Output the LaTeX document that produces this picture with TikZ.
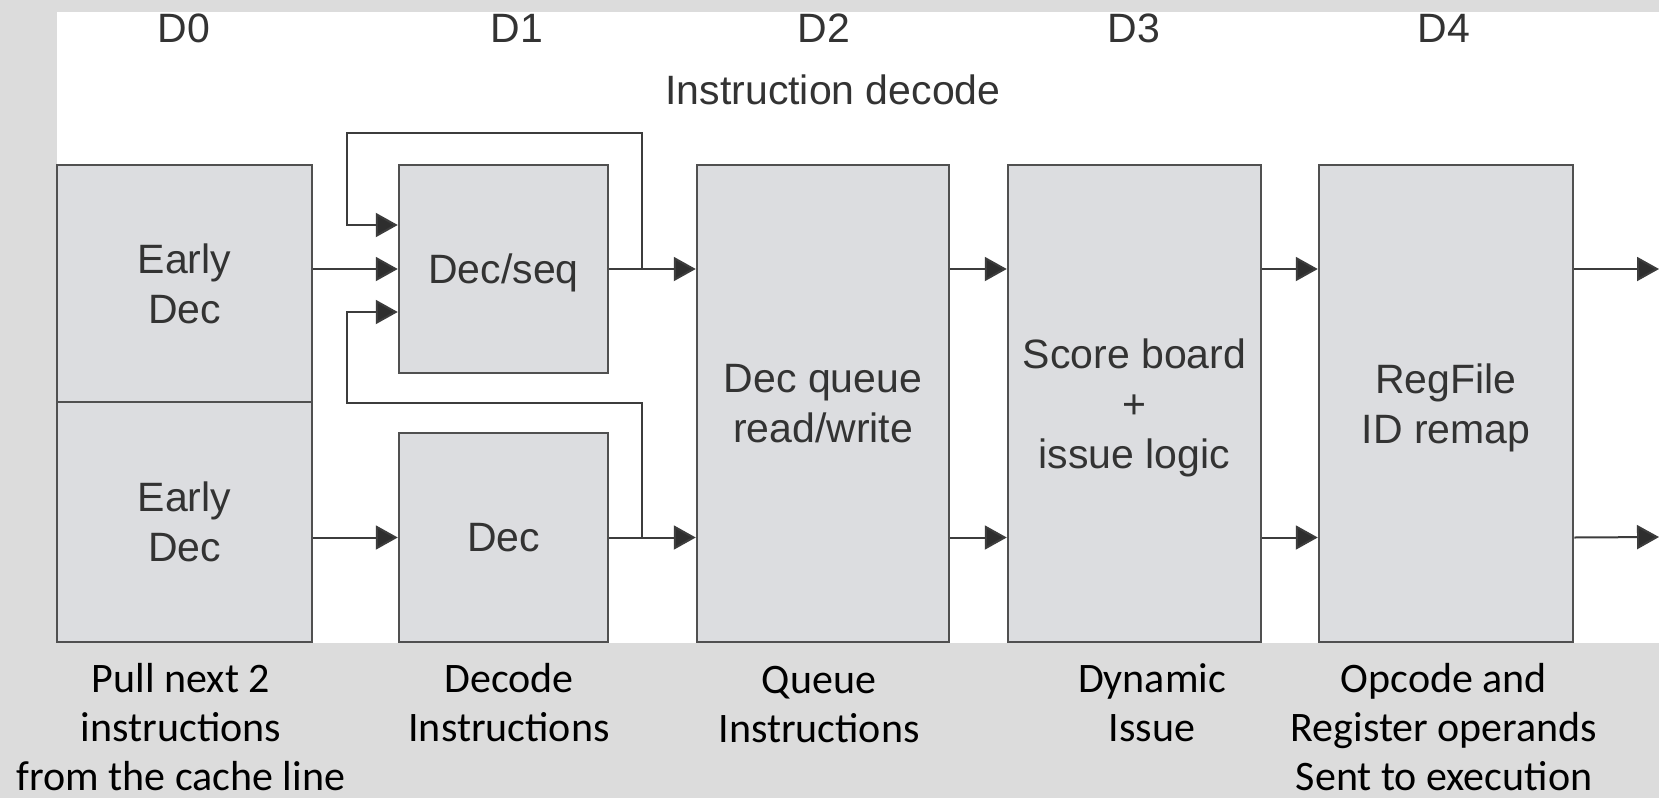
\documentclass[tikz,border=0pt]{standalone}
\usepackage{fontspec}
\usetikzlibrary{arrows.meta}
\newfontfamily\figfont{Liberation Sans}
\newfontfamily\notefont{Carlito}
\definecolor{bggray}{HTML}{DCDCDC}
\definecolor{boxfill}{HTML}{DCDDE0}
\definecolor{boxline}{HTML}{505050}
\definecolor{wire}{HTML}{3C3C3C}
\definecolor{tipcol}{HTML}{2E2E2E}
\definecolor{figtext}{HTML}{333333}
\begin{document}
\begin{tikzpicture}[x=1pt,y=-1pt,
  blk/.style={draw=boxline, line width=2.5pt, fill=boxfill, inner sep=0pt,
    font=\figfont\fontsize{41}{50}\selectfont, text=figtext, align=center, text depth=0pt},
  arr/.style={draw=wire, line width=2pt, -{Triangle[length=22pt,width=24pt,fill=tipcol]}},
  hdr/.style={font=\figfont\fontsize{41}{50}\selectfont, text=figtext, anchor=base, inner sep=0pt},
  note/.style={font=\notefont\fontsize{42}{49}\selectfont, text=black, align=center,
    anchor=north, inner sep=0pt, text depth=0pt}
]
\useasboundingbox (0,0) rectangle (1659,798);
\fill[bggray] (0,0) rectangle (1659,798);
\fill[white] (57,12) rectangle (1659,643);

% stage headers
\node[hdr] (h0) at (184,42) {D0};
\node[hdr] (h1) at (517,42) {D1};
\node[hdr] (h2) at (824,42) {D2};
\node[hdr] (h3) at (1134,42) {D3};
\node[hdr] (h4) at (1444,42) {D4};
\node[hdr] (title) at (833,104) {Instruction decode};

% blocks
\node[blk, minimum width=255pt, minimum height=237pt] (ed1) at (184.5,283.5) {Early\\Dec};
\node[blk, minimum width=255pt, minimum height=240pt] (ed2) at (184.5,522) {Early\\Dec};
\node[blk, minimum width=209pt, minimum height=208pt] (ds) at (503.5,269) {Dec/seq};
\node[blk, minimum width=209pt, minimum height=209pt] (dec) at (503.5,537.5) {Dec};
\node[blk, minimum width=252pt, minimum height=477pt] (dq) at (823,403.5) {Dec queue\\read/write};
\node[blk, minimum width=253pt, minimum height=477pt] (sb) at (1134.5,403.5) {Score board\\+\\issue logic};
\node[blk, minimum width=254pt, minimum height=477pt] (rf) at (1446,403.5) {RegFile\\ID remap};

% junctions and free ends
\coordinate (j1) at (642,269);
\coordinate (j2) at (642,537);
\coordinate (o1) at (1659,269);
\coordinate (o2) at (1659,537);

% connectors
\draw[arr] (ed1.east |- ds.west) -- (ds.west);
\draw[arr] (ed2.east |- dec.west) -- (dec.west);
\draw[arr] (ds.east) -- (dq.west |- ds.east);
\draw[arr] (dec.east) -- (dq.west |- dec.east);
\draw[arr] (dq.east |- ds.east) -- (sb.west |- ds.east);
\draw[arr] (dq.east |- dec.east) -- (sb.west |- dec.east);
\draw[arr] (sb.east |- ds.east) -- (rf.west |- ds.east);
\draw[arr] (sb.east |- dec.east) -- (rf.west |- dec.east);
\draw[arr] (rf.east |- ds.east) -- (o1);
\draw[arr] (rf.east |- dec.east) -- (o2);

% feedback loops
\draw[arr] (j1) -- (642,133) -- (347,133) -- (347,225) -- ([yshift=44pt]ds.west);
\draw[arr] (j2) -- (642,403) -- (347,403) -- (347,312) -- ([yshift=-43pt]ds.west);

% notes
\node[note] (n0) at (181,663) {Pull next 2\\instructions\\from the cache line};
\node[note] (n1) at (509,663) {Decode\\Instructions};
\node[note] (n2) at (819,666) {Queue\\Instructions};
\node[note] (n3) at (1152,663) {Dynamic\\Issue};
\node[note] (n4) at (1444,663) {Opcode and\\Register operands\\Sent to execution};
\end{tikzpicture}
\end{document}
